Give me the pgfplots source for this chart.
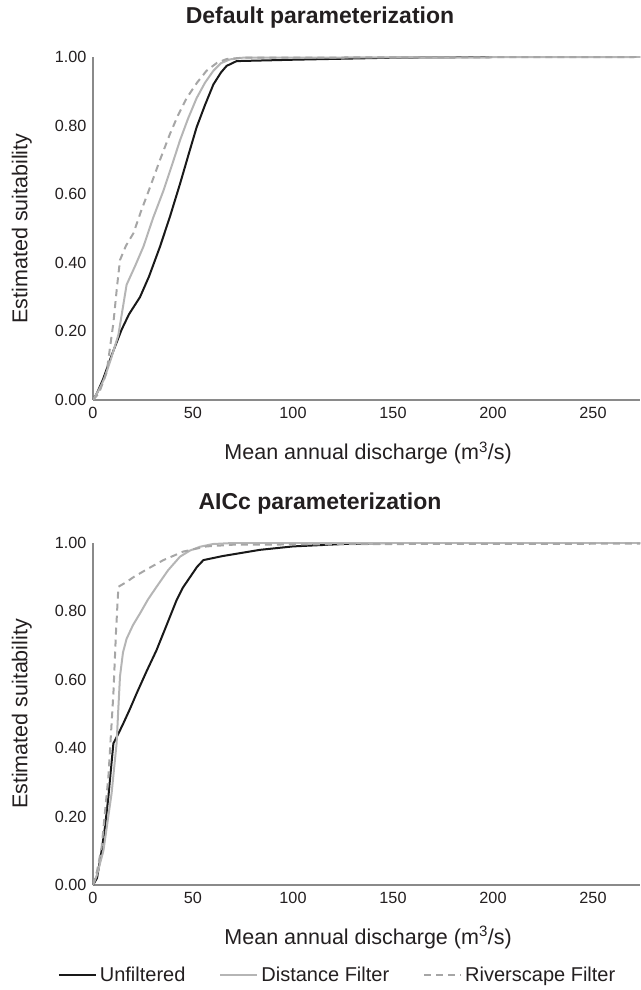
\documentclass[border=0pt]{standalone}
\usepackage{fontspec}
\setmainfont{Liberation Sans}
\usepackage{pgfplots}
\pgfplotsset{compat=1.18}
\definecolor{TextGray}{HTML}{231F20}
\definecolor{AxisGray}{HTML}{8A8A8A}
\definecolor{LineGray}{HTML}{B5B5B5}
\definecolor{DashGray}{HTML}{A6A6A6}

\pgfplotsset{
 suitaxis/.style={
  scale only axis, width=547pt, height=343pt,
  xmin=0, xmax=273.5, ymin=0, ymax=1,
  xtick={0,50,...,250}, ytick={0,0.2,0.4,0.6,0.8,1},
  axis x line*=bottom, axis y line*=left,
  axis line style={draw=AxisGray, line width=1.1pt, -},
  major tick length=0pt,
  /pgf/number format/assume math mode=true,
  tick label style={font=\fontsize{16.2}{18}\selectfont, text=TextGray},
  yticklabel style={/pgf/number format/fixed, /pgf/number format/fixed zerofill,
   /pgf/number format/precision=2, xshift=-3pt},
  xticklabel style={yshift=-4pt},
  xlabel={Mean annual discharge (m\textsuperscript{3}/s)},
  ylabel={Estimated suitability},
  label style={font=\fontsize{21.5}{25}\selectfont, text=TextGray},
  xlabel style={at={(axis description cs:0.503,-0.154)}, anchor=center},
  ylabel style={at={(axis description cs:-0.130,0.5)}, anchor=center},
  title style={font=\bfseries\fontsize{23}{27}\selectfont, text=TextGray,
   at={(axis description cs:0.415,1.097)}, anchor=center},
  unf/.style={black!90, line width=2pt},
  dist/.style={LineGray, line width=2pt},
  river/.style={DashGray, line width=2pt, dash pattern=on 7pt off 5pt},
 }
}

\begin{document}
\begin{tikzpicture}
\useasboundingbox (0,0) rectangle (640pt,990pt);

\begin{axis}[suitaxis, at={(93pt,590pt)}, anchor=south west,
 title={Default parameterization}]
\addplot[unf] coordinates {(0,0) (2,0.02) (5,0.06) (9.3,0.13) (14.3,0.205) (18,0.25) (23.5,0.30) (28,0.36) (33.5,0.447) (38.5,0.535) (43.5,0.63) (48,0.72) (51.8,0.795) (56,0.86) (60.2,0.92) (64,0.955) (66.8,0.974) (71.8,0.988) (100,0.992) (150,0.998) (200,1.0) (274,1.0)};
\addplot[dist] coordinates {(0,0) (3,0.03) (5.5,0.06) (9,0.12) (12.7,0.19) (16.8,0.336) (21,0.39) (25.2,0.447) (30,0.53) (35.2,0.61) (39.5,0.685) (43.5,0.757) (47.5,0.82) (51.8,0.88) (56,0.925) (60.2,0.96) (64,0.982) (68.5,0.993) (75,0.998) (274,1.0)};
\addplot[river] coordinates {(0,0) (3,0.02) (6.8,0.08) (10.2,0.225) (12,0.33) (13.5,0.408) (16.5,0.45) (20.2,0.486) (24,0.55) (28.5,0.62) (33.5,0.70) (38.5,0.776) (42.5,0.83) (46.8,0.88) (52,0.925) (56.8,0.96) (62,0.983) (66.8,0.994) (75,0.998) (274,1.0)};
\end{axis}

\begin{axis}[suitaxis, at={(93pt,105pt)}, anchor=south west, height=342pt,
 title={AICc parameterization},
 legend style={draw=none, fill=none, at={(axis description cs:0.448,-0.263)}, anchor=center,
  font=\fontsize{20}{24}\selectfont, text=TextGray, legend columns=3,
  /tikz/every even column/.append style={column sep=31pt},
  nodes={inner xsep=3pt}},
 legend image code/.code={\draw[#1] (0pt,0pt) -- (37pt,0pt);}]
\addplot[unf] coordinates {(0,0) (2,0.02) (4.3,0.10) (6,0.17) (7.7,0.258) (9,0.34) (10.2,0.414) (12.5,0.44) (15.2,0.473) (18.5,0.515) (21.8,0.56) (26.8,0.625) (31.8,0.687) (36.8,0.76) (41.8,0.833) (45,0.87) (48.5,0.90) (52,0.93) (55.2,0.95) (65,0.962) (83.5,0.98) (100,0.99) (125,0.997) (150,1.0) (274,1.0)};
\addlegendentry{Unfiltered}
\addplot[dist] coordinates {(0,0) (2,0.03) (5.2,0.10) (9.3,0.268) (11.8,0.414) (12.7,0.52) (13.5,0.61) (15,0.68) (16.8,0.72) (20,0.76) (23.5,0.794) (27.5,0.835) (31.8,0.872) (37.5,0.92) (43.5,0.96) (48.5,0.978) (53.5,0.989) (60,0.997) (70,1.0) (274,1.0)};
\addlegendentry{Distance Filter}
\addplot[river] coordinates {(0,0) (2,0.04) (4.3,0.11) (7.7,0.317) (10.2,0.56) (11.5,0.74) (12.7,0.872) (16.5,0.885) (20.2,0.90) (27.5,0.925) (35.2,0.95) (45.2,0.975) (56.8,0.99) (70,0.995) (150,0.997) (274,0.998)};
\addlegendentry{Riverscape Filter}
\end{axis}
\end{tikzpicture}
\end{document}
